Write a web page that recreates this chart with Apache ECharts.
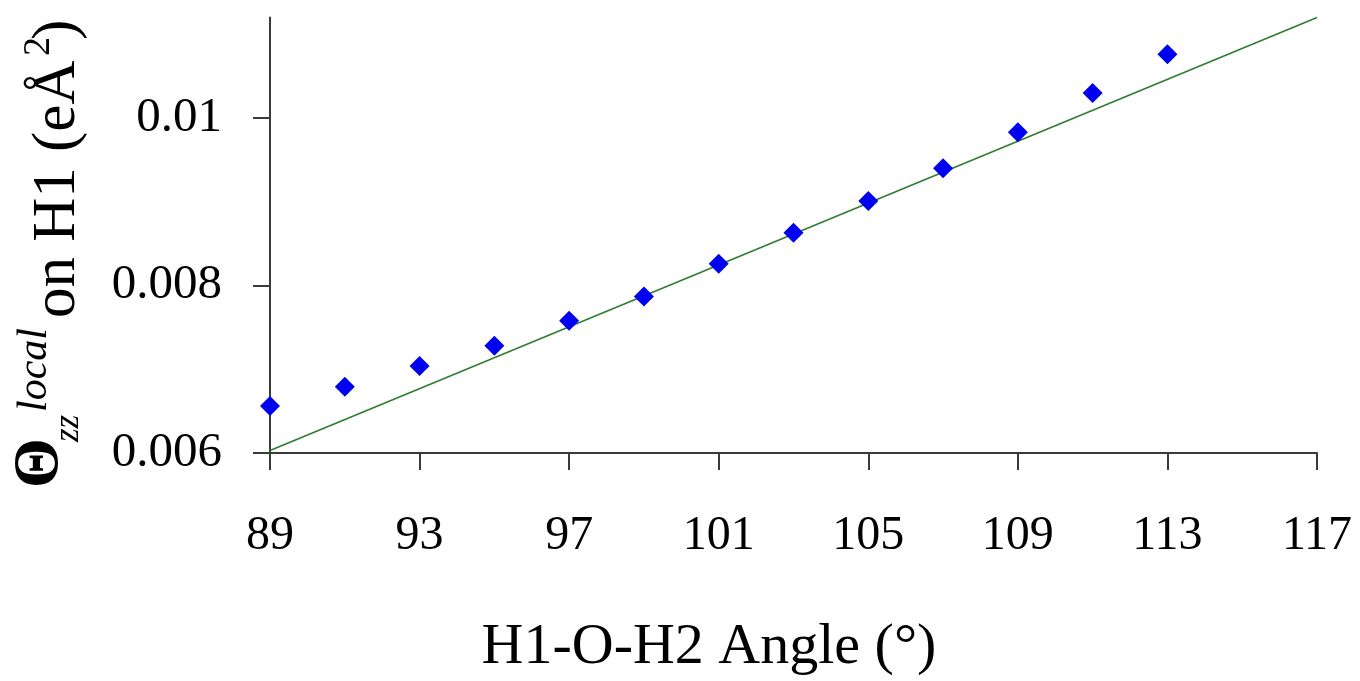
<!DOCTYPE html>
<html>
<head>
<meta charset="utf-8">
<script src="https://cdn.jsdelivr.net/npm/echarts@6/dist/echarts.min.js"></script>
<style>html,body{margin:0;padding:0;background:#fff}#c{width:1360px;height:681px}</style>
</head>
<body>
<div id="c"></div>
<script>
// Data
var angles = [89, 91, 93, 95, 97, 99, 101, 103, 105, 107, 109, 111, 113];
var thetaZZ = [0.00656, 0.00679, 0.00704, 0.00728, 0.00758, 0.00787, 0.00826, 0.00863, 0.00901, 0.00940, 0.00983, 0.01030, 0.01076];
var trendX = [89, 117];
var trendY = [0.00603, 0.0112];
var xTicks = [89, 93, 97, 101, 105, 109, 113, 117];
var yTicks = [0.006, 0.008, 0.01];

var FONT = "'Liberation Serif', 'Times New Roman', serif";
var chart = echarts.init(document.getElementById('c'));

var scatterData = angles.map(function (a, i) { return [a, thetaZZ[i]]; });
var trendData = trendX.map(function (a, i) { return [a, trendY[i]]; });

var axisColor = '#3a3a3a';

function piece(txt, x, yOff, size, weight, style) {
  return {
    type: 'text', x: x, y: yOff,
    style: {
      text: txt, fill: '#000', font: (style || 'normal') + ' ' + (weight || 'normal') + ' ' + size + 'px ' + FONT,
      textAlign: 'left', verticalAlign: 'bottom'
    }
  };
}

chart.setOption({
  backgroundColor: '#ffffff',
  animation: false,
  grid: { left: 270, right: 43, top: 17.5, bottom: 228, containLabel: false },
  xAxis: {
    type: 'value', min: 89, max: 117, interval: 4,
    axisLine: { show: true, lineStyle: { color: axisColor, width: 2 } },
    axisTick: { show: true, length: 17, inside: false, lineStyle: { color: axisColor, width: 2 }, customValues: xTicks },
    axisLabel: { customValues: xTicks, margin: 59, fontSize: 48, color: '#000', fontFamily: FONT },
    splitLine: { show: false }
  },
  yAxis: {
    type: 'value', min: 0.006, max: 0.0112,
    axisLine: { show: true, onZero: false, lineStyle: { color: axisColor, width: 2 } },
    axisTick: { show: true, length: 17, lineStyle: { color: axisColor, width: 2 }, customValues: yTicks },
    axisLabel: {
      customValues: yTicks, margin: 48, fontSize: 49, color: '#000', fontFamily: FONT,
      formatter: function (v) { return String(+(+v).toFixed(4)); }
    },
    splitLine: { show: false }
  },
  series: [
    {
      type: 'line', data: trendData, showSymbol: false, symbol: 'none', clip: false,
      lineStyle: { color: '#2f7d2f', width: 1.6 }, z: 2
    },
    {
      type: 'scatter', data: scatterData, symbol: 'diamond', symbolSize: [20, 20],
      itemStyle: { color: '#0000f0', opacity: 1 }, z: 3
    }
  ],
  graphic: [
    {
      type: 'text', x: 709, y: 619,
      style: { text: 'H1-O-H2 Angle (°)', font: 'normal 58px ' + FONT, fill: '#000', textAlign: 'center', verticalAlign: 'top' }
    },
    {
      type: 'group', x: 80, y: 490, rotation: Math.PI / 2,
      children: [
        piece('Θ', 2, -8, 64, 'bold'),
        piece('zz', 48, 6, 35, 'normal', 'italic'),
        piece('local', 78, -24, 42, 'normal', 'italic'),
        piece('on H1 (eÅ', 172, 8, 61),
        piece('2', 434, -22, 38),
        piece(')', 450, 8, 61)
      ]
    }
  ]
});
</script>
</body>
</html>
